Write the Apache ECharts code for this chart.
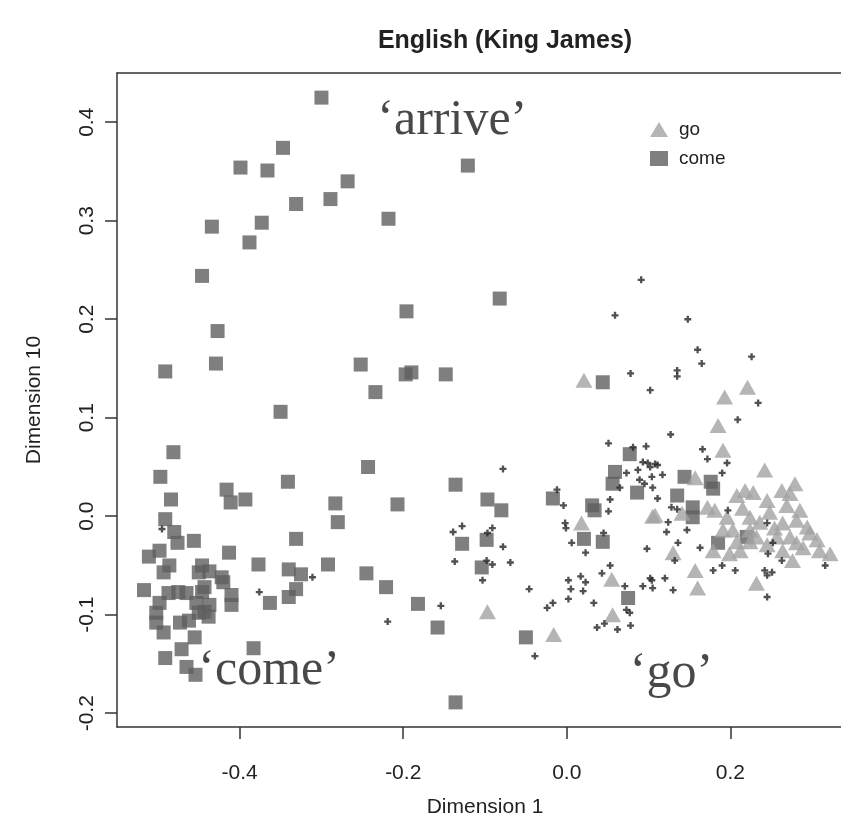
<!DOCTYPE html>
<html>
<head>
<meta charset="utf-8">
<script src="https://cdn.jsdelivr.net/npm/echarts@6/dist/echarts.min.js"></script>
<style>
html, body { margin: 0; padding: 0; background: #fff; }
#main { width: 841px; height: 836px; }
</style>
</head>
<body>
<div id="main"></div>
<script>
// 'come' points (squares)
var comeX = [-0.300,-0.347,-0.399,-0.366,-0.268,-0.331,-0.289,-0.218,-0.121,-0.434,
  -0.373,-0.388,-0.446,-0.196,-0.427,-0.429,-0.491,-0.252,-0.197,-0.190,
  -0.148,-0.234,-0.082,0.044,-0.350,-0.481,-0.497,-0.484,-0.416,-0.411,
  -0.393,-0.341,-0.243,-0.283,-0.280,-0.207,-0.136,-0.128,-0.491,-0.480,
  -0.476,-0.456,-0.498,-0.511,-0.413,-0.486,-0.493,-0.377,-0.331,-0.340,
  -0.325,-0.292,-0.245,-0.446,-0.450,-0.437,-0.422,-0.420,-0.517,-0.443,
  -0.446,-0.410,-0.410,-0.487,-0.475,-0.465,-0.498,-0.502,-0.502,-0.493,
  -0.473,-0.462,-0.450,-0.453,-0.437,-0.438,-0.443,-0.363,-0.455,-0.471,
  -0.491,-0.465,-0.454,-0.383,-0.331,-0.340,-0.221,-0.182,-0.158,-0.136,
  -0.097,-0.080,-0.017,0.031,0.034,0.077,0.059,0.056,0.086,0.021,
  0.044,-0.098,-0.104,0.075,-0.050,0.144,0.176,0.179,0.135,0.154,
  0.154,0.220,0.185];
var comeY = [0.425,0.374,0.354,0.351,0.340,0.317,0.322,0.302,0.356,0.294,
  0.298,0.278,0.244,0.208,0.188,0.155,0.147,0.154,0.144,0.146,
  0.144,0.126,0.221,0.136,0.106,0.065,0.040,0.017,0.027,0.014,
  0.017,0.035,0.050,0.013,-0.006,0.012,0.032,-0.028,-0.003,-0.016,
  -0.027,-0.025,-0.035,-0.041,-0.037,-0.050,-0.057,-0.049,-0.023,-0.054,
  -0.059,-0.049,-0.058,-0.050,-0.057,-0.056,-0.062,-0.067,-0.075,-0.072,
  -0.077,-0.080,-0.090,-0.078,-0.077,-0.078,-0.088,-0.098,-0.108,-0.118,
  -0.108,-0.106,-0.098,-0.088,-0.090,-0.102,-0.097,-0.088,-0.123,-0.135,
  -0.144,-0.153,-0.161,-0.134,-0.074,-0.082,-0.072,-0.089,-0.113,-0.189,
  0.017,0.006,0.018,0.011,0.006,0.063,0.045,0.033,0.024,-0.023,
  -0.026,-0.024,-0.052,-0.083,-0.123,0.040,0.035,0.028,0.021,0.009,
  -0.001,-0.021,-0.027];

// 'go' points (triangles)
var goX = [0.021,0.105,0.018,0.055,0.056,-0.097,-0.016,0.221,0.193,0.185,
  0.191,0.157,0.141,0.108,0.242,0.218,0.228,0.263,0.273,0.245,
  0.269,0.181,0.196,0.215,0.224,0.236,0.191,0.203,0.224,0.232,
  0.264,0.281,0.294,0.297,0.306,0.257,0.273,0.281,0.264,0.276,
  0.309,0.322,0.179,0.199,0.212,0.172,0.130,0.157,0.160,0.232,
  0.208,0.224,0.248,0.285,0.254,0.289,0.245,0.279,0.208];
var goY = [0.138,0.000,-0.007,-0.064,-0.100,-0.097,-0.120,0.131,0.121,0.092,
  0.067,0.039,0.003,0.001,0.047,0.026,0.024,0.026,0.023,0.016,
  0.011,0.006,-0.001,0.008,-0.001,-0.006,-0.014,-0.014,-0.014,-0.021,
  -0.007,-0.004,-0.011,-0.017,-0.024,-0.021,-0.021,-0.027,-0.035,-0.045,
  -0.035,-0.038,-0.035,-0.038,-0.035,0.009,-0.037,-0.055,-0.073,-0.068,
  -0.026,-0.026,0.004,0.006,-0.012,-0.032,-0.029,0.033,0.021];

// other verbs (small dark crosses)
var otherX = [0.091,0.059,0.148,0.160,0.226,0.165,0.078,0.135,0.135,0.102,
  0.234,0.209,0.127,0.051,0.166,0.172,0.196,0.190,0.081,0.097,
  0.087,0.093,0.099,0.108,0.073,0.089,0.095,0.104,0.105,0.065,
  0.053,0.051,0.111,0.102,0.111,0.117,0.128,0.135,0.124,0.122,
  0.147,0.136,0.163,0.132,0.120,0.104,0.130,0.105,0.179,0.190,
  0.206,0.197,0.245,0.252,0.246,0.263,0.242,0.251,0.245,0.316,
  0.245,-0.078,-0.012,-0.004,-0.002,-0.001,0.006,0.023,0.045,0.098,
  -0.091,-0.097,-0.078,-0.069,-0.098,-0.091,-0.103,0.053,0.043,0.002,
  0.017,0.023,0.005,0.020,0.002,-0.046,-0.024,-0.017,0.033,0.071,
  0.073,0.077,0.102,0.093,0.037,0.046,0.062,0.078,-0.039,-0.139,
  -0.128,-0.137,-0.311,-0.154,-0.219,-0.495,-0.376];
var otherY = [0.240,0.204,0.200,0.169,0.162,0.155,0.145,0.148,0.142,0.128,
  0.115,0.098,0.083,0.074,0.068,0.058,0.054,0.044,0.070,0.071,
  0.047,0.055,0.054,0.053,0.044,0.037,0.033,0.040,0.029,0.029,
  0.017,0.005,0.018,0.050,0.052,0.042,0.009,0.007,-0.006,-0.016,
  -0.014,-0.027,-0.032,-0.045,-0.063,-0.065,-0.075,-0.073,-0.055,-0.050,
  -0.055,0.006,-0.007,-0.027,-0.038,-0.045,-0.055,-0.057,-0.060,-0.050,
  -0.082,0.048,0.027,0.011,-0.007,-0.012,-0.027,-0.037,-0.017,-0.033,
  -0.012,-0.017,-0.031,-0.047,-0.045,-0.049,-0.065,-0.050,-0.058,-0.065,
  -0.061,-0.067,-0.074,-0.076,-0.084,-0.074,-0.093,-0.088,-0.088,-0.071,
  -0.095,-0.098,-0.063,-0.071,-0.113,-0.109,-0.115,-0.111,-0.142,-0.016,
  -0.010,-0.046,-0.062,-0.091,-0.107,-0.013,-0.077];

// region labels
var annoText = ['\u2018arrive\u2019', '\u2018come\u2019', '\u2018go\u2019'];
var annoX = [-0.140, -0.364, 0.128];
var annoY = [0.401, -0.157, -0.160];

var xTicks = [-0.4, -0.2, 0.0, 0.2];
var yTicks = [-0.2, -0.1, 0.0, 0.1, 0.2, 0.3, 0.4];

function pairs(xs, ys) {
    var out = [];
    for (var i = 0; i < xs.length; i++) {
        out.push([xs[i], ys[i]]);
    }
    return out;
}

var annoData = [];
for (var i = 0; i < annoText.length; i++) {
    annoData.push({ name: annoText[i], value: [annoX[i], annoY[i]] });
}

var crossPath = 'path://M2,0h2v2h2v2h-2v2h-2v-2h-2v-2h2z';
var sans = 'Liberation Sans, Arial, sans-serif';
var frame = { show: true, onZero: false, lineStyle: { color: '#333', width: 1.5 } };

var myChart = echarts.init(document.getElementById('main'));
var option = {
    animation: false,
    title: {
        text: 'English (King James)',
        left: 500,
        top: 24,
        textAlign: 'center',
        textStyle: { fontFamily: sans, fontWeight: 'bold', fontSize: 25, color: '#222' }
    },
    legend: {
        data: ['go', 'come'],
        orient: 'vertical',
        left: 645,
        top: 115,
        itemWidth: 18,
        itemHeight: 15,
        itemGap: 10,
        textStyle: { fontFamily: sans, fontSize: 19, color: '#222', padding: [0, 0, 0, 6] }
    },
    grid: {
        left: 117,
        top: 73,
        width: 736,
        height: 654,
        outerBoundsMode: 'none',
        containLabel: false
    },
    xAxis: [
        {
            type: 'value',
            min: -0.55,
            max: 0.35,
            splitLine: { show: false },
            axisLine: frame,
            axisTick: { show: true, length: 12, customValues: xTicks, lineStyle: { color: '#333', width: 1.5 } },
            axisLabel: {
                customValues: xTicks,
                margin: 36,
                fontFamily: sans,
                fontSize: 21,
                color: '#222',
                formatter: function (v) { return v.toFixed(1); }
            },
            name: 'Dimension 1',
            nameLocation: 'middle',
            nameGap: 70,
            nameTextStyle: { fontFamily: sans, fontSize: 21, color: '#222' }
        },
        {
            // top edge of the plot box
            type: 'value',
            position: 'top',
            min: -0.55,
            max: 0.35,
            splitLine: { show: false },
            axisLine: frame,
            axisTick: { show: false },
            axisLabel: { show: false }
        }
    ],
    yAxis: {
        type: 'value',
        min: -0.214,
        max: 0.45,
        splitLine: { show: false },
        axisLine: frame,
        axisTick: { show: true, length: 12, customValues: yTicks, lineStyle: { color: '#333', width: 1.5 } },
        axisLabel: {
            customValues: yTicks,
            rotate: 90,
            margin: 19,
            fontFamily: sans,
            fontSize: 21,
            color: '#222',
            formatter: function (v) { return v.toFixed(1); }
        },
        name: 'Dimension 10',
        nameLocation: 'middle',
        nameGap: 72,
        nameTextStyle: { fontFamily: sans, fontSize: 21, color: '#222' }
    },
    series: [
        {
            name: 'come',
            type: 'scatter',
            symbol: 'rect',
            symbolSize: 14,
            itemStyle: { color: '#5f5f5f' },
            data: pairs(comeX, comeY)
        },
        {
            name: 'go',
            type: 'scatter',
            symbol: 'triangle',
            symbolSize: [17, 15],
            itemStyle: { color: '#a2a2a2' },
            data: pairs(goX, goY)
        },
        {
            name: 'other',
            type: 'scatter',
            symbol: crossPath,
            symbolSize: 7,
            itemStyle: { color: '#262626' },
            data: pairs(otherX, otherY)
        },
        {
            name: 'labels',
            type: 'scatter',
            symbolSize: 0,
            silent: true,
            label: {
                show: true,
                position: 'inside',
                formatter: '{b}',
                fontFamily: 'Liberation Serif, Times New Roman, serif',
                fontSize: 50,
                color: '#1a1a1a'
            },
            data: annoData
        }
    ]
};
myChart.setOption(option);
</script>
</body>
</html>
